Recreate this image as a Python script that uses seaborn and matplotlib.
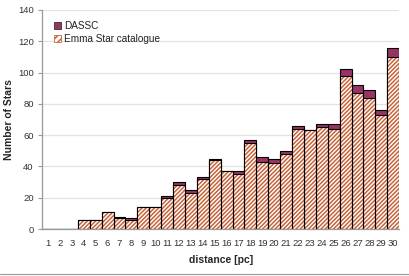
import matplotlib
matplotlib.use("Agg")
import matplotlib.pyplot as plt
import seaborn as sns
import pandas as pd
from matplotlib.patches import Patch
from matplotlib.lines import Line2D

distance = list(range(1, 31))
emma = [0, 0, 0, 6, 6, 11, 7, 6, 14, 14, 20, 28, 23, 32, 44, 37, 35, 55, 43, 42,
        48, 64, 63, 65, 64, 98, 87, 84, 73, 110]
dassc = [0, 0, 0, 0, 0, 0, 1, 1, 0, 0, 1, 2, 2, 1, 1, 0, 2, 2, 3, 3,
         2, 2, 0, 2, 3, 4, 5, 5, 3, 6]
labels = ["DASSC", "Emma Star catalogue"]

df = pd.DataFrame({"distance": [str(d) for d in distance],
                   "emma": emma,
                   "total": [a + b for a, b in zip(emma, dassc)]})
order = df["distance"].tolist()

sns.set_style("white")
plt.rcParams["font.family"] = ["Liberation Sans", "DejaVu Sans"]
plt.rcParams["hatch.linewidth"] = 1.1

DASSC_COL = "#993366"
HATCH_COL = "#c8643a"

fig = plt.figure(figsize=(4.09, 2.76), dpi=100)
ax = fig.add_axes([0.103, 0.170, 0.873, 0.794])

sns.barplot(data=df, x="distance", y="total", order=order, color=DASSC_COL,
            width=1.0, edgecolor="black", linewidth=0.8, saturation=1, ax=ax)
sns.barplot(data=df, x="distance", y="emma", order=order, color="white",
            width=1.0, edgecolor=HATCH_COL, hatch="////////", linewidth=0,
            saturation=1, ax=ax)
sns.barplot(data=df, x="distance", y="emma", order=order, fill=False,
            width=1.0, edgecolor="black", linewidth=0.8, ax=ax)

ax.set_xlim(-0.5, 29.5)
ax.set_ylim(0, 140)
ax.set_yticks(range(0, 141, 20))
ax.yaxis.grid(True, color="#e2e2e2", linewidth=0.9)
ax.set_axisbelow(True)
for s in ["top", "right"]:
    ax.spines[s].set_visible(False)
for s in ["left", "bottom"]:
    ax.spines[s].set_color("#999999")
    ax.spines[s].set_linewidth(0.9)

ax.set_xticks(range(30))
ax.set_xticklabels(order)
ax.set_xticks([i - 0.5 for i in range(31)], minor=True)
ax.tick_params(axis="x", which="major", length=0, labelsize=6.8, pad=7,
               colors="#333333")
ax.tick_params(axis="x", which="minor", length=3, color="#999999",
               direction="out")
ax.tick_params(axis="y", which="major", length=3, color="#999999",
               labelsize=6.8, labelcolor="#333333", direction="out", pad=3)
ax.tick_params(axis="both", bottom=True, left=True)

ax.set_xlabel("distance [pc]", fontsize=7.5, fontweight="bold", labelpad=5)
ax.set_ylabel("Number of Stars", fontsize=7.5, fontweight="bold", labelpad=3)

handles = [Patch(facecolor=DASSC_COL, edgecolor="#333333", linewidth=0.6),
           Patch(facecolor="white", edgecolor=HATCH_COL, hatch="/////",
                 linewidth=0.6)]
leg = ax.legend(handles, labels, loc="upper left", bbox_to_anchor=(0.01, 0.985),
                frameon=False, fontsize=7.2, handlelength=0.7,
                handleheight=0.7, handletextpad=0.3, labelspacing=0.25,
                borderaxespad=0.4)
for t in leg.get_texts():
    t.set_color("#222222")

fig.add_artist(Line2D([0, 1], [0.008, 0.008], color="#999999",
                      linewidth=0.8, transform=fig.transFigure))

fig.savefig("out.png", dpi=100)
